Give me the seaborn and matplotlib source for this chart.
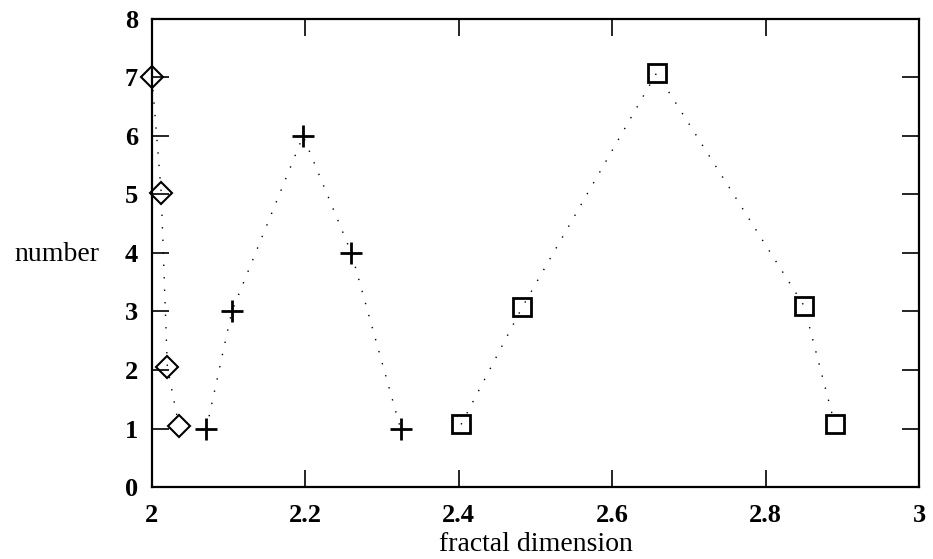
import seaborn as sns
import matplotlib.pyplot as plt

# diamonds, crosses, squares
diamond_x = [2.0, 2.012, 2.02, 2.035]
diamond_y = [7.0, 5.03, 2.05, 1.05]
plus_x = [2.071, 2.104, 2.197, 2.26, 2.324]
plus_y = [1.0, 3.0, 6.0, 4.0, 1.0]
square_x = [2.403, 2.483, 2.658, 2.85, 2.89]
square_y = [1.07, 3.08, 7.08, 3.1, 1.08]

x_ticks = [2, 2.2, 2.4, 2.6, 2.8, 3]
x_labels = ['2', '2.2', '2.4', '2.6', '2.8', '3']
y_ticks = [0, 1, 2, 3, 4, 5, 6, 7, 8]

sns.set_style('ticks', {'text.color': 'black', 'axes.labelcolor': 'black',
                        'xtick.color': 'black', 'ytick.color': 'black'})
plt.rcParams['font.family'] = ['Liberation Serif', 'DejaVu Serif']

fig = plt.figure(figsize=(9.33, 5.59), dpi=100)
ax = fig.add_axes([152 / 933, 72 / 559, 767 / 933, 468 / 559])

dots = dict(color='black', linewidth=1.0, linestyle=(0, (1, 8)), sort=False)
sns.lineplot(x=diamond_x, y=diamond_y, ax=ax, **dots)
sns.lineplot(x=plus_x, y=plus_y, ax=ax, **dots)
sns.lineplot(x=square_x, y=square_y, ax=ax, **dots)

ax.plot(diamond_x, diamond_y, 'D', ms=11.5, mfc='none', mec='black', mew=1.5,
        clip_on=False, zorder=5)
ax.plot(plus_x, plus_y, '+', ms=16, mec='black', mew=2.0, clip_on=False, zorder=5)
ax.plot(square_x, square_y, 's', ms=12.5, mfc='none', mec='black', mew=2.0,
        clip_on=False, zorder=5)

ax.set_xlim(2, 3)
ax.set_ylim(0, 8)
ax.set_xticks(x_ticks)
ax.set_xticklabels(x_labels)
ax.set_yticks(y_ticks)
ax.tick_params(direction='in', length=12, width=1.2, top=True, right=True,
               labelsize=19, colors='black')
ax.tick_params(axis='x', pad=12)
ax.tick_params(axis='y', pad=10)
for lbl in ax.get_xticklabels() + ax.get_yticklabels():
    lbl.set_fontweight('bold')
for s in ax.spines.values():
    s.set_linewidth(1.6)
    s.set_color('black')

ax.set_xlabel('fractal dimension', fontsize=20, va='top', color='black')
ax.xaxis.set_label_coords(0.5, -0.096)
ax.set_ylabel('number', fontsize=20, rotation=0, ha='right', va='center',
              color='black')
ax.yaxis.set_label_coords(-0.068, 0.496)

fig.savefig('out.png', dpi=100)
